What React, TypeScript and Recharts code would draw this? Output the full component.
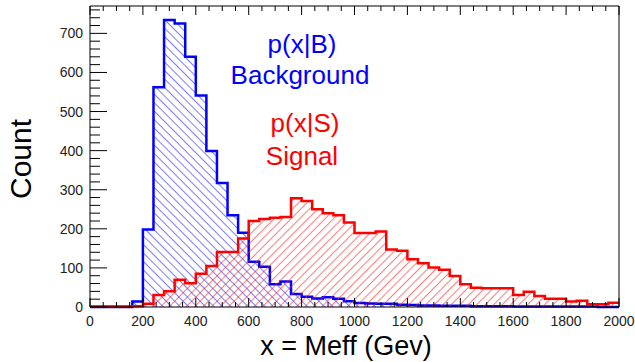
import React from "react";
import { AreaChart, Area, XAxis, YAxis } from "recharts";

// histogram bins, 40 GeV wide, left edges
const binEdges = [
  0, 40, 80, 120, 160, 200, 240, 280, 320, 360,
  400, 440, 480, 520, 560, 600, 640, 680, 720, 760,
  800, 840, 880, 920, 960, 1000, 1040, 1080, 1120, 1160,
  1200, 1240, 1280, 1320, 1360, 1400, 1440, 1480, 1520, 1560,
  1600, 1640, 1680, 1720, 1760, 1800, 1840, 1880, 1920, 1960,
];

// p(x|B) background counts
const background = [
  0, 0, 0, 0, 14, 198, 562, 734, 725, 640,
  541, 399, 317, 235, 190, 116, 103, 58, 65, 33,
  26, 22, 25, 21, 15, 10, 9, 8, 8, 6,
  5, 4, 4, 3, 3, 3, 2, 2, 2, 2,
  1, 1, 1, 1, 1, 1, 1, 1, 0, 0,
];

// p(x|S) signal counts
const signal = [
  1, 1, 1, 1, 2, 8, 31, 40, 70, 61,
  85, 105, 141, 141, 175, 220, 225, 228, 230, 278,
  271, 250, 240, 235, 216, 189, 189, 193, 147, 144,
  122, 112, 101, 95, 79, 58, 49, 48, 48, 48,
  31, 39, 28, 21, 21, 14, 16, 7, 7, 11,
];

const xLabels = [0, 200, 400, 600, 800, 1000, 1200, 1400, 1600, 1800, 2000];
const yLabels = [0, 100, 200, 300, 400, 500, 600, 700];
const X_MAX = 2000;
const Y_MAX = 770;

// minor ticks: every 50 on x, every 20 on y
const xTicks = Array.from({ length: 41 }, (_, i) => i * 50);
const yTicks = Array.from({ length: 39 }, (_, i) => i * 20);

const data = binEdges.map((x, i) => ({ x, bkg: background[i], sig: signal[i] }));
// closing point so the last bin is drawn to the right edge
data.push({ x: X_MAX, bkg: background[background.length - 1], sig: signal[signal.length - 1] });

const FONT = "'Liberation Sans', Arial, Helvetica, sans-serif";

const BottomTick = (props: any) => {
  const { x, y, payload } = props;
  const v = payload.value;
  const major = xLabels.includes(v);
  return (
    <g>
      <line x1={x} y1={y} x2={x} y2={y - (major ? 9 : 5)} stroke="#000" strokeWidth={1} />
      {major && (
        <text x={x} y={y + 19} textAnchor="middle" fontSize={14} fontFamily={FONT} fill="#222">
          {v}
        </text>
      )}
    </g>
  );
};

const TopTick = (props: any) => {
  const { x, y, payload } = props;
  const major = xLabels.includes(payload.value);
  return <line x1={x} y1={y} x2={x} y2={y + (major ? 9 : 5)} stroke="#000" strokeWidth={1} />;
};

const LeftTick = (props: any) => {
  const { x, y, payload } = props;
  const v = payload.value;
  const major = yLabels.includes(v);
  return (
    <g>
      <line x1={x} y1={y} x2={x + (major ? 17 : 10)} y2={y} stroke="#000" strokeWidth={1} />
      {major && (
        <text x={x - 7} y={y + 5} textAnchor="end" fontSize={14} fontFamily={FONT} fill="#222">
          {v}
        </text>
      )}
    </g>
  );
};

const RightTick = (props: any) => {
  const { x, y, payload } = props;
  const major = yLabels.includes(payload.value);
  return <line x1={x} y1={y} x2={x - (major ? 17 : 10)} y2={y} stroke="#000" strokeWidth={1} />;
};

export default function App() {
  return (
    <div style={{ position: "absolute", left: 0, top: 0, width: 635, height: 362, background: "#fff" }}>
      <AreaChart width={635} height={362} data={data} margin={{ top: 0, right: 0, bottom: 0, left: 0 }}>
        <defs>
          <pattern id="hatchB" width="6" height="6" patternUnits="userSpaceOnUse" patternTransform="rotate(-45)">
            <line x1="0" y1="0" x2="0" y2="6" stroke="#2222ff" strokeWidth="1.2" />
          </pattern>
          <pattern id="hatchS" width="6" height="6" patternUnits="userSpaceOnUse" patternTransform="rotate(45)">
            <line x1="0" y1="0" x2="0" y2="6" stroke="#ff2222" strokeWidth="1.2" />
          </pattern>
        </defs>
        <XAxis
          xAxisId="bottom"
          dataKey="x"
          type="number"
          domain={[0, X_MAX]}
          ticks={xTicks}
          interval={0}
          height={55}
          tickSize={0}
          tickMargin={0}
          tickLine={false}
          axisLine={{ stroke: "#000" }}
          tick={<BottomTick />}
        />
        <XAxis
          xAxisId="top"
          orientation="top"
          dataKey="x"
          type="number"
          domain={[0, X_MAX]}
          ticks={xTicks}
          interval={0}
          height={6}
          tickSize={0}
          tickMargin={0}
          tickLine={false}
          axisLine={{ stroke: "#000" }}
          tick={<TopTick />}
        />
        <YAxis
          yAxisId="left"
          type="number"
          domain={[0, Y_MAX]}
          ticks={yTicks}
          interval={0}
          width={90}
          tickSize={0}
          tickMargin={0}
          tickLine={false}
          axisLine={{ stroke: "#000" }}
          tick={<LeftTick />}
        />
        <YAxis
          yAxisId="right"
          orientation="right"
          type="number"
          domain={[0, Y_MAX]}
          ticks={yTicks}
          interval={0}
          width={16}
          tickSize={0}
          tickMargin={0}
          tickLine={false}
          axisLine={{ stroke: "#000" }}
          tick={<RightTick />}
        />
        <Area
          xAxisId="bottom"
          yAxisId="left"
          type="stepAfter"
          dataKey="bkg"
          stroke="#0000ff"
          strokeWidth={2.5}
          fill="url(#hatchB)"
          fillOpacity={1}
          isAnimationActive={false}
          dot={false}
          activeDot={false}
        />
        <Area
          xAxisId="bottom"
          yAxisId="left"
          type="stepAfter"
          dataKey="sig"
          stroke="#ff0000"
          strokeWidth={2.5}
          fill="url(#hatchS)"
          fillOpacity={1}
          isAnimationActive={false}
          dot={false}
          activeDot={false}
        />
        <text x={302} y={53} textAnchor="middle" fontSize={26} fontFamily={FONT} fill="#0000ff">p(x|B)</text>
        <text x={300} y={84} textAnchor="middle" fontSize={26} fontFamily={FONT} fill="#0000ff">Background</text>
        <text x={305} y={132} textAnchor="middle" fontSize={26} fontFamily={FONT} fill="#ff0000">p(x|S)</text>
        <text x={302} y={165} textAnchor="middle" fontSize={26} fontFamily={FONT} fill="#ff0000">Signal</text>
        <text x={346} y={355} textAnchor="middle" fontSize={27} fontFamily={FONT} fill="#000">x = Meff (Gev)</text>
        <text x={31} y={159} textAnchor="middle" fontSize={30} fontFamily={FONT} fill="#000" transform="rotate(-90 31 159)">Count</text>
      </AreaChart>
    </div>
  );
}
